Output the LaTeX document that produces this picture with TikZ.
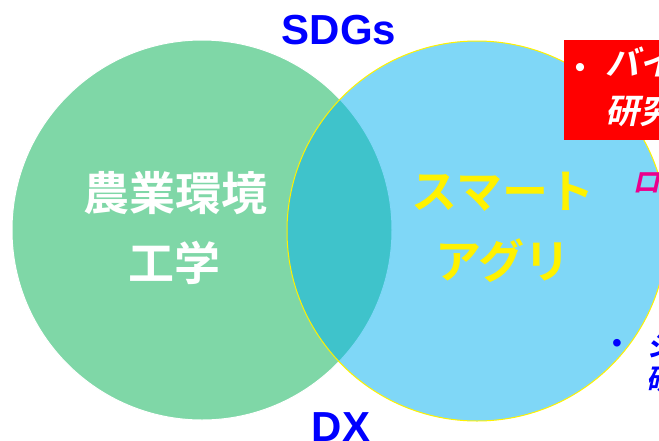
\documentclass[tikz,border=0pt]{standalone}
\usepackage{fontspec}
\setmainfont{Liberation Sans}
\newfontfamily\jp{Noto Sans CJK JP}[UprightFont=* Bold]
\newfontfamily\jpi{Noto Sans CJK JP}[UprightFont=* Bold, FakeSlant=0.22]
\definecolor{leftgreen}{HTML}{00B050}
\definecolor{rightblue}{HTML}{00B0F0}
\definecolor{lblblue}{HTML}{0000FF}
\begin{document}
\begin{tikzpicture}[x=1pt,y=-1pt,
  big/.style={font=\jp\fontsize{46}{46}\selectfont, anchor=base, inner sep=0pt},
  lbl/.style={font=\bfseries\fontsize{42}{42}\selectfont, text=lblblue, anchor=base, inner sep=0pt},
  side/.style={anchor=base west, inner sep=0pt},
  dot/.style={anchor=base, inner sep=0pt}]
\useasboundingbox (0,0) rectangle (659,440);
\fill[white] (0,0) rectangle (659,440);
% circles
\draw[draw=white, line width=1pt, fill=leftgreen, fill opacity=0.5] (202,230) circle[radius=190];
\draw[draw=yellow, line width=1pt, fill=rightblue, fill opacity=0.5] (477,231) circle[radius=190];
% circle texts
\node[big, text=white] (t1) at (175,210) {農業環境};
\node[big, text=white] (t2) at (174,280) {工学};
\node[big, text=yellow] (t3) at (503,208) {スマート};
\node[big, text=yellow] (t4) at (503,278) {アグリ};
% labels
\node[lbl] (sdg) at (339,44) {SDGs};
\node[lbl] (dx) at (341,441) {DX};
% red box
\node[fill=red, inner sep=0pt, minimum width=130pt, minimum height=100pt, anchor=north west] (rbox) at (564,40) {};
\node[dot, text=white, font=\fontsize{30}{30}\selectfont] (rb) at (580,77) {•};
\node[side, text=white, font=\jpi\fontsize{34}{34}\selectfont] (r1) at (605,75) {バイ};
\node[side, text=white, font=\jpi\fontsize{34}{34}\selectfont] (r2) at (605,123) {研究};
% magenta
\node[side, text=magenta, font=\jpi\fontsize{28}{28}\selectfont] (m1) at (632,192) {ロ};
% blue bullet text
\node[dot, text=lblblue, font=\fontsize{28}{28}\selectfont] (bb) at (617,352) {•};
\node[side, text=lblblue, font=\jpi\fontsize{28}{28}\selectfont] (b1) at (646,356) {シ};
\node[side, text=lblblue, font=\jpi\fontsize{28}{28}\selectfont] (b2) at (646,389) {研};
\end{tikzpicture}
\end{document}
